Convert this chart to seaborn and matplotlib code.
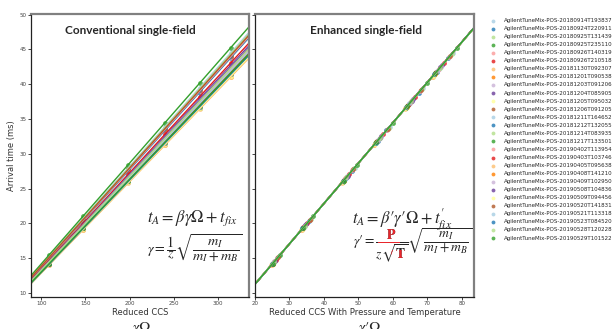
import numpy as np
import pandas as pd
import seaborn as sns
import matplotlib.pyplot as plt
from matplotlib.transforms import Bbox, TransformedBbox

run_names = [
    "AgilentTuneMix-POS-20180914T193837", "AgilentTuneMix-POS-20180924T220911",
    "AgilentTuneMix-POS-20180925T131439", "AgilentTuneMix-POS-20180925T235110",
    "AgilentTuneMix-POS-20180926T140319", "AgilentTuneMix-POS-20180926T210518",
    "AgilentTuneMix-POS-20181130T092307", "AgilentTuneMix-POS-20181201T090538",
    "AgilentTuneMix-POS-20181203T091206", "AgilentTuneMix-POS-20181204T085905",
    "AgilentTuneMix-POS-20181205T095032", "AgilentTuneMix-POS-20181206T091205",
    "AgilentTuneMix-POS-20181211T164652", "AgilentTuneMix-POS-20181212T132055",
    "AgilentTuneMix-POS-20181214T083935", "AgilentTuneMix-POS-20181217T133501",
    "AgilentTuneMix-POS-20190402T113954", "AgilentTuneMix-POS-20190403T103746",
    "AgilentTuneMix-POS-20190405T095638", "AgilentTuneMix-POS-20190408T141210",
    "AgilentTuneMix-POS-20190409T102950", "AgilentTuneMix-POS-20190508T104836",
    "AgilentTuneMix-POS-20190509T094456", "AgilentTuneMix-POS-20190520T141831",
    "AgilentTuneMix-POS-20190521T113318", "AgilentTuneMix-POS-20190523T084520",
    "AgilentTuneMix-POS-20190528T120228", "AgilentTuneMix-POS-20190529T101522",
]

# reduced CCS (gamma * Omega) of the six tune mix ions
reduced_ccs = [109.1, 147.4, 198.6, 240.0, 279.1, 314.2]

# P / sqrt(T) for each run
p_over_sqrt_t = [
    0.2460, 0.2420, 0.2450, 0.2500, 0.2430, 0.2380, 0.2270,
    0.2300, 0.2335, 0.2360, 0.2290, 0.2440, 0.2330, 0.2315,
    0.2300, 0.2285, 0.2325, 0.2310, 0.2275, 0.2295, 0.2350,
    0.2345, 0.2280, 0.2305, 0.2320, 0.2290, 0.2340, 0.2300,
]

# arrival times (ms), one row per run
arrival_times = [
    [15.27, 20.69, 28.03, 33.88, 39.51, 44.47],
    [14.98, 20.39, 27.52, 33.38, 38.81, 43.79],
    [15.21, 20.61, 27.93, 33.75, 39.35, 44.28],
    [15.49, 21.08, 28.45, 34.49, 40.12, 45.24],
    [15.08, 20.44, 27.69, 33.47, 39.02, 43.92],
    [14.73, 20.05, 27.07, 32.83, 38.17, 43.06],
    [14.07, 19.06, 25.85, 31.25, 36.44, 41.01],
    [14.22, 19.37, 26.15, 31.71, 36.88, 41.60],
    [14.48, 19.63, 26.59, 32.15, 37.49, 42.19],
    [14.60, 19.88, 26.84, 32.55, 37.85, 42.70],
    [14.20, 19.24, 26.08, 31.52, 36.76, 41.37],
    [15.15, 20.52, 27.80, 33.61, 39.18, 44.10],
    [14.41, 19.62, 26.50, 32.13, 37.37, 42.15],
    [14.36, 19.45, 26.36, 31.87, 37.16, 41.82],
    [14.26, 19.33, 26.19, 31.66, 36.92, 41.55],
    [14.13, 19.24, 25.98, 31.50, 36.64, 41.33],
    [14.42, 19.54, 26.48, 32.01, 37.32, 42.00],
    [14.28, 19.45, 26.27, 31.85, 37.04, 41.79],
    [14.10, 19.11, 25.90, 31.32, 36.52, 41.09],
    [14.19, 19.32, 26.09, 31.64, 36.80, 41.52],
    [14.58, 19.75, 26.77, 32.36, 37.73, 42.46],
    [14.51, 19.75, 26.67, 32.33, 37.61, 42.43],
    [14.14, 19.16, 25.96, 31.39, 36.60, 41.18],
    [14.25, 19.41, 26.21, 31.78, 36.96, 41.70],
    [14.39, 19.50, 26.42, 31.95, 37.24, 41.91],
    [14.16, 19.28, 26.04, 31.57, 36.72, 41.43],
    [14.51, 19.67, 26.65, 32.22, 37.57, 42.28],
    [14.23, 19.36, 26.16, 31.70, 36.90, 41.57],
]

# x range the fitted lines are drawn over
fit_range_ccs = [88.5, 335.0]
fit_range_ccs_pt = [20.0, 83.5]

sns.set_style("ticks")
plt.rcParams["mathtext.fontset"] = "stix"
palette = sns.color_palette("Paired", 12)

rows = []
for name, factor, times in zip(run_names, p_over_sqrt_t, arrival_times):
    for ccs, t in zip(reduced_ccs, times):
        rows.append({"run": name, "ccs": ccs, "ccs_pt": ccs * factor, "time": t})
df = pd.DataFrame(rows)

fig = plt.figure(figsize=(6.14, 3.29), dpi=100)
ax1 = fig.add_axes([0.0505, 0.097, 0.355, 0.8605])
ax2 = fig.add_axes([0.4153, 0.097, 0.3567, 0.8605], sharey=ax1)

for ax, xcol, fit_range in ((ax1, "ccs", fit_range_ccs), (ax2, "ccs_pt", fit_range_ccs_pt)):
    ax.set_xlim(fit_range)
    for i, name in enumerate(run_names):
        grp = df[df["run"] == name]
        sns.regplot(data=grp, x=xcol, y="time", ax=ax, ci=None, truncate=False,
                    color=palette[i % 12], label=name,
                    scatter_kws={"s": 12, "linewidths": 0},
                    line_kws={"lw": 1.0})
    ax.autoscale()
    for side in ("left", "bottom"):
        ax.spines[side].set_color("#222222")
        ax.spines[side].set_linewidth(0.9)
    for side in ("top", "right"):
        ax.spines[side].set_color("#808080")
        ax.spines[side].set_linewidth(1.6)
    ax.tick_params(labelsize=4, length=2, width=0.6, pad=1, labelcolor="#444444")

ax1.set_yticks([10, 15, 20, 25, 30, 35, 40, 45, 50])
ax1.set_xticks([100, 150, 200, 250, 300])
ax2.set_xticks([20, 30, 40, 50, 60, 70, 80])
ax2.tick_params(labelleft=False)

ax1.set_ylabel("Arrival time (ms)", fontsize=6, labelpad=3, color="#333333")
ax1.set_xlabel("Reduced CCS", fontsize=6, labelpad=1.5, color="#333333")
ax2.set_ylabel("")
ax2.set_xlabel("Reduced CCS With Pressure and Temperature", fontsize=6, labelpad=1.5, color="#333333")

ax1.text(0.456, 0.943, "Conventional single-field", transform=ax1.transAxes,
         ha="center", va="center", fontsize=8.5, fontweight="bold", family="Lato")
ax2.text(0.508, 0.943, "Enhanced single-field", transform=ax2.transAxes,
         ha="center", va="center", fontsize=8.5, fontweight="bold", family="Lato")

ax1.text(0.531, 0.279, r"$t_A = \beta\gamma\Omega + t_{fix}$", transform=ax1.transAxes,
         fontsize=12, va="center")
ax1.text(0.531, 0.171, r"$\gamma = \dfrac{1}{z}\sqrt{\dfrac{m_I}{m_I + m_B}}$",
         transform=ax1.transAxes, fontsize=10.3, va="center")

ax2.text(0.4416, 0.272, r"$t_A = \beta\prime\gamma\prime\Omega + t_{fix}^{\prime}$",
         transform=ax2.transAxes, fontsize=12, va="center")
formula = r"$\gamma\prime = \dfrac{\mathbf{P}}{z\sqrt{\mathbf{T}}}\sqrt{\dfrac{m_I}{m_I + m_B}}$"
ax2.text(0.449, 0.184, formula, transform=ax2.transAxes, fontsize=9.8, va="center")
# red P and T: same formula in red, clipped to the two letters
for box in ([0.56, 0.19, 0.66, 0.284], [0.622, 0.112, 0.69, 0.166]):
    red = ax2.text(0.449, 0.184, formula, transform=ax2.transAxes, fontsize=9.8,
                   va="center", color="#e8262c", clip_on=True)
    red.set_clip_box(TransformedBbox(Bbox.from_extents(*box), ax2.transAxes))

fig.text(0.231, 0.028, r"$\gamma\Omega$", fontsize=11, ha="center", va="top")
fig.text(0.6026, 0.028, r"$\gamma\prime\Omega$", fontsize=11, ha="center", va="top")

handles, labels = ax1.get_legend_handles_labels()
fig.legend(handles, labels, loc="upper left", bbox_to_anchor=(0.7948, 0.952),
           frameon=False, fontsize=4.0, markerscale=0.8, handlelength=1.0,
           handletextpad=1.4, labelspacing=0.55, borderaxespad=0)

fig.savefig("out.png", dpi=100)
